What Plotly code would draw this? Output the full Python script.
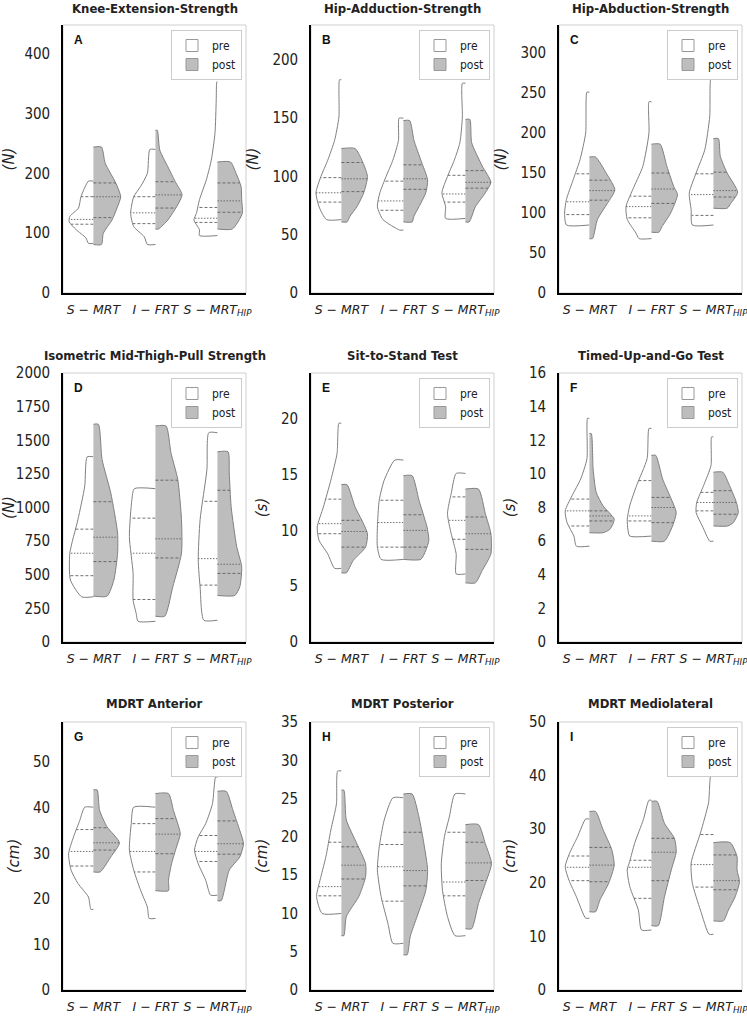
import numpy as np
import plotly.graph_objects as go

# ---------------- data ----------------
tick_text = ["<i>S − MRT</i>", "<i>I − FRT</i>", "<i>S − MRT<sub>HIP</sub></i>"]
titles = ["Knee-Extension-Strength", "Hip-Adduction-Strength", "Hip-Abduction-Strength",
          "Isometric Mid-Thigh-Pull Strength", "Sit-to-Stand Test", "Timed-Up-and-Go Test",
          "MDRT Anterior", "MDRT Posterior", "MDRT Mediolateral"]
letters = ["A", "B", "C", "D", "E", "F", "G", "H", "I"]
units = ["(N)", "(N)", "(N)", "(N)", "(s)", "(s)", "(cm)", "(cm)", "(cm)"]
y_max = [448, 230, 335, 2000, 24.1, 16, 58.8, 35, 50]
y_dtick = [100, 50, 50, 250, 5, 2, 10, 5, 10]

# density profiles (value levels, half-widths) and quartiles [Q1, median, Q3] per group
A_pre_y = [[83, 92, 106, 119, 128, 142, 161, 187], [81, 94, 111, 133, 161, 178, 200, 240],
           [96, 106, 122, 133, 156, 189, 222, 267, 322, 353]]
A_pre_w = [[0.08, 0.12, 0.28, 0.39, 0.38, 0.24, 0.20, 0.08], [0.13, 0.18, 0.35, 0.40, 0.35, 0.24, 0.13, 0.09],
           [0.29, 0.29, 0.38, 0.34, 0.29, 0.18, 0.10, 0.04, 0.02, 0.01]]
A_pre_q = [[115, 123, 161], [116, 134, 161], [118, 125, 143]]
A_post_y = [[81, 100, 122, 142, 161, 184, 217, 244], [107, 122, 144, 164, 186, 211, 239, 272],
            [107, 133, 156, 178, 200, 219]]
A_post_w = [[0.13, 0.16, 0.30, 0.38, 0.44, 0.36, 0.19, 0.13], [0.05, 0.20, 0.34, 0.43, 0.32, 0.20, 0.07, 0.03],
            [0.24, 0.40, 0.39, 0.38, 0.30, 0.21]]
A_post_q = [[126, 161, 184], [142, 164, 186], [135, 154, 184]]

B_pre_y = [[63, 74, 86, 100, 114, 131, 151, 183], [54, 63, 74, 86, 100, 114, 131, 150],
           [64, 74, 86, 100, 114, 129, 151, 180]]
B_pre_w = [[0.24, 0.36, 0.41, 0.33, 0.22, 0.11, 0.04, 0.03], [0.06, 0.33, 0.42, 0.38, 0.28, 0.17, 0.08, 0.07],
           [0.32, 0.32, 0.38, 0.29, 0.18, 0.09, 0.05, 0.05]]
B_pre_q = [[78, 86, 99], [71, 79, 96], [78, 85, 101]]
B_post_y = [[61, 66, 74, 86, 100, 114, 124], [61, 66, 74, 86, 97, 114, 131, 148],
            [61, 74, 86, 95, 109, 129, 149]]
B_post_w = [[0.09, 0.14, 0.25, 0.36, 0.42, 0.33, 0.22], [0.14, 0.17, 0.25, 0.36, 0.39, 0.28, 0.17, 0.10],
            [0.06, 0.16, 0.32, 0.41, 0.27, 0.10, 0.07]]
B_post_q = [[87, 98, 112], [89, 98, 110], [90, 95, 105]]

C_pre_y = [[85, 100, 117, 142, 167, 200, 251], [68, 75, 92, 108, 133, 158, 200, 239],
           [85, 104, 125, 150, 179, 221, 269]]
C_pre_w = [[0.37, 0.40, 0.37, 0.26, 0.15, 0.06, 0.04], [0.20, 0.25, 0.39, 0.41, 0.28, 0.14, 0.04, 0.04],
           [0.34, 0.36, 0.39, 0.28, 0.14, 0.06, 0.04]]
C_pre_q = [[98, 114, 149], [94, 108, 121], [97, 123, 149]]
C_post_y = [[68, 92, 112, 129, 150, 170], [76, 83, 100, 123, 133, 158, 186],
            [106, 112, 126, 150, 171, 193]]
C_post_w = [[0.05, 0.13, 0.29, 0.41, 0.27, 0.10], [0.12, 0.17, 0.31, 0.42, 0.36, 0.25, 0.14],
            [0.22, 0.28, 0.39, 0.22, 0.11, 0.08]]
C_post_q = [[116, 128, 141], [112, 130, 150], [120, 128, 151]]

D_pre_y = [[336, 461, 660, 909, 1158, 1377], [154, 212, 311, 510, 784, 1058, 1140],
           [162, 411, 610, 909, 1282, 1556]]
D_pre_w = [[0.19, 0.37, 0.38, 0.25, 0.14, 0.10], [0.28, 0.31, 0.36, 0.36, 0.42, 0.38, 0.34],
           [0.22, 0.28, 0.31, 0.28, 0.17, 0.14]]
D_pre_q = [[493, 660, 839], [316, 660, 921], [423, 620, 1046]]
D_post_y = [[341, 461, 660, 809, 1108, 1357, 1619], [192, 411, 660, 909, 1208, 1407, 1606],
            [346, 411, 560, 710, 1008, 1257, 1414]]
D_post_w = [[0.22, 0.33, 0.39, 0.39, 0.28, 0.14, 0.08], [0.15, 0.28, 0.42, 0.42, 0.36, 0.25, 0.17],
            [0.28, 0.36, 0.39, 0.31, 0.22, 0.19, 0.17]]
D_post_q = [[598, 779, 1043], [625, 767, 1203], [510, 578, 1128]]

E_pre_y = [[6.6, 7.9, 9.1, 10.3, 12.1, 14.5, 16.9, 19.6], [7.4, 8.5, 10.3, 12.7, 14.5, 16.3],
           [6.1, 7.9, 9.7, 11.5, 13.3, 15.1]]
E_pre_w = [[0.11, 0.22, 0.36, 0.39, 0.29, 0.17, 0.07, 0.04], [0.36, 0.42, 0.42, 0.39, 0.31, 0.14],
           [0.15, 0.15, 0.23, 0.29, 0.23, 0.15]]
E_pre_q = [[9.7, 10.6, 12.8], [8.5, 10.7, 12.7], [9.2, 10.9, 13.0]]
E_post_y = [[6.2, 7.3, 8.5, 9.7, 10.9, 12.1, 14.1], [7.4, 8.2, 9.1, 10.3, 12.7, 14.9],
            [5.3, 6.4, 7.9, 9.7, 11.5, 13.7]]
E_post_w = [[0.08, 0.19, 0.39, 0.42, 0.33, 0.22, 0.09], [0.28, 0.36, 0.41, 0.38, 0.25, 0.14],
            [0.16, 0.27, 0.41, 0.41, 0.32, 0.21]]
E_post_q = [[8.5, 9.9, 10.9], [8.5, 10.0, 11.4], [8.3, 9.7, 11.2]]

F_pre_y = [[5.7, 6.3, 7.1, 7.8, 8.7, 9.7, 10.9, 13.3], [6.3, 6.7, 7.3, 8.1, 9.3, 10.9, 12.7],
           [6.0, 6.9, 7.7, 8.3, 9.3, 10.5, 12.2]]
F_pre_w = [[0.21, 0.25, 0.36, 0.39, 0.28, 0.14, 0.04, 0.03], [0.35, 0.38, 0.39, 0.35, 0.24, 0.07, 0.04],
           [0.06, 0.18, 0.28, 0.27, 0.16, 0.04, 0.03]]
F_pre_q = [[6.9, 7.8, 8.5], [7.2, 7.5, 9.6], [7.8, 8.3, 8.9]]
F_post_y = [[6.5, 6.7, 7.3, 8.1, 8.9, 10.3, 12.4], [6.0, 6.9, 7.7, 8.5, 9.7, 11.1],
            [6.9, 7.1, 7.7, 8.3, 9.3, 10.1]]
F_post_w = [[0.22, 0.33, 0.40, 0.22, 0.11, 0.06, 0.03], [0.21, 0.34, 0.40, 0.32, 0.18, 0.07],
            [0.23, 0.32, 0.40, 0.37, 0.26, 0.15]]
F_post_q = [[7.2, 7.5, 7.8], [7.1, 8.0, 8.6], [7.6, 8.3, 9.0]]

G_pre_y = [[17.7, 20.4, 23.4, 26.3, 29.9, 33.6, 37.2, 40.1], [15.7, 18.2, 21.9, 26.3, 30.7, 36.5, 40.1],
           [20.8, 24.1, 27.7, 30.7, 33.6, 36.5, 40.9, 46.7]]
G_pre_w = [[0.04, 0.08, 0.25, 0.36, 0.40, 0.32, 0.22, 0.14], [0.10, 0.13, 0.24, 0.35, 0.42, 0.39, 0.35],
           [0.11, 0.19, 0.31, 0.37, 0.31, 0.19, 0.08, 0.03]]
G_pre_q = [[27.2, 30.4, 35.2], [25.9, 30.4, 36.5], [28.2, 30.4, 33.9]]
G_post_y = [[25.9, 29.2, 32.3, 35.8, 39.4, 43.9], [21.8, 24.1, 27.7, 31.4, 34.3, 39.4, 43.1],
            [19.6, 26.3, 29.2, 32.1, 35.0, 39.4, 43.6]]
G_post_w = [[0.11, 0.28, 0.42, 0.22, 0.10, 0.06], [0.21, 0.21, 0.26, 0.34, 0.40, 0.29, 0.21],
            [0.06, 0.19, 0.36, 0.42, 0.36, 0.25, 0.14]]
G_post_q = [[30.7, 32.3, 35.6], [29.9, 34.2, 37.6], [29.8, 32.1, 37.1]]

H_pre_y = [[10.0, 12.2, 14.8, 17.4, 20.9, 24.3, 28.6], [6.1, 8.7, 12.2, 15.7, 18.7, 22.2, 25.1],
           [7.1, 9.6, 13.0, 16.5, 20.0, 22.6, 25.6]]
H_pre_w = [[0.31, 0.40, 0.33, 0.25, 0.17, 0.08, 0.06], [0.17, 0.25, 0.36, 0.42, 0.39, 0.31, 0.17],
           [0.17, 0.29, 0.37, 0.39, 0.34, 0.26, 0.17]]
H_pre_q = [[12.3, 13.5, 19.3], [11.6, 16.1, 19.0], [12.3, 14.1, 20.6]]
H_post_y = [[7.1, 9.6, 12.2, 14.8, 16.5, 19.1, 22.2, 26.1], [4.6, 7.0, 9.6, 13.0, 15.7, 19.1, 22.6, 25.6],
            [8.0, 11.3, 13.9, 16.5, 19.1, 21.6]]
H_post_w = [[0.04, 0.08, 0.28, 0.39, 0.39, 0.25, 0.08, 0.04], [0.06, 0.11, 0.22, 0.36, 0.39, 0.33, 0.25, 0.14],
            [0.10, 0.21, 0.32, 0.42, 0.32, 0.21]]
H_post_q = [[14.5, 16.3, 18.7], [13.6, 15.6, 20.6], [14.3, 16.6, 19.3]]

I_pre_y = [[13.4, 17.4, 20.5, 23.0, 25.5, 28.6, 31.9], [11.2, 14.9, 19.3, 22.4, 24.0, 27.4, 31.8, 35.4],
           [10.4, 14.9, 19.9, 23.7, 29.3, 34.9, 40.2]]
I_pre_w = [[0.06, 0.21, 0.33, 0.39, 0.32, 0.19, 0.06], [0.16, 0.21, 0.35, 0.39, 0.35, 0.27, 0.13, 0.04],
           [0.07, 0.21, 0.34, 0.36, 0.21, 0.08, 0.04]]
I_pre_q = [[20.4, 22.9, 25.0], [17.1, 22.9, 24.2], [19.2, 23.4, 29.0]]
I_post_y = [[14.6, 16.8, 19.9, 23.3, 26.2, 29.9, 33.3], [12.0, 17.4, 22.4, 25.8, 28.3, 31.1, 35.2],
            [12.9, 14.9, 17.4, 20.2, 22.4, 24.9, 27.5]]
I_post_w = [[0.10, 0.17, 0.31, 0.40, 0.36, 0.22, 0.10], [0.11, 0.21, 0.32, 0.40, 0.37, 0.21, 0.09],
            [0.16, 0.24, 0.35, 0.42, 0.38, 0.38, 0.27]]
I_post_q = [[20.2, 23.3, 26.6], [20.4, 25.7, 28.3], [18.7, 20.4, 25.2]]

panels = [
    (A_pre_y, A_pre_w, A_pre_q, A_post_y, A_post_w, A_post_q),
    (B_pre_y, B_pre_w, B_pre_q, B_post_y, B_post_w, B_post_q),
    (C_pre_y, C_pre_w, C_pre_q, C_post_y, C_post_w, C_post_q),
    (D_pre_y, D_pre_w, D_pre_q, D_post_y, D_post_w, D_post_q),
    (E_pre_y, E_pre_w, E_pre_q, E_post_y, E_post_w, E_post_q),
    (F_pre_y, F_pre_w, F_pre_q, F_post_y, F_post_w, F_post_q),
    (G_pre_y, G_pre_w, G_pre_q, G_post_y, G_post_w, G_post_q),
    (H_pre_y, H_pre_w, H_pre_q, H_post_y, H_post_w, H_post_q),
    (I_pre_y, I_pre_w, I_pre_q, I_post_y, I_post_w, I_post_q),
]

# ---------------- layout geometry ----------------
W, H = 747, 1020
col_left = [63, 311, 559]
col_width = 183
row_top = [25, 373, 722]
row_bottom = [293, 642, 990]
title_y = [9, 355, 703]

NARROW = "DejaVu Sans Condensed, Liberation Sans Narrow, Arial Narrow, Liberation Sans, sans-serif"
MATH = "DejaVu Sans, sans-serif"
PRE_FILL = "#ffffff"
POST_FILL = "#bdbdbd"
EDGE = "#808080"
QCOL = "#606060"

fig = go.Figure()
layout = dict(
    width=W, height=H, margin=dict(l=0, r=0, t=0, b=0, autoexpand=False),
    paper_bgcolor="white", plot_bgcolor="white",
    font=dict(family=NARROW, size=14, color="#222"),
    shapes=[], annotations=[],
)


def outline(c, ys, ws, sign):
    xs = [c] + [c + sign * w for w in ws] + [c]
    yy = [ys[0]] + list(ys) + [ys[-1]]
    return xs, yy


for k, (pre_y, pre_w, pre_q, post_y, post_w, post_q) in enumerate(panels):
    r, cidx = divmod(k, 3)
    xa = "x" if k == 0 else f"x{k+1}"
    ya = "y" if k == 0 else f"y{k+1}"
    lg = "legend" if k == 0 else f"legend{k+1}"
    x0 = col_left[cidx] / W
    x1 = (col_left[cidx] + col_width) / W
    y0 = 1 - row_bottom[r] / H
    y1 = 1 - row_top[r] / H

    # legend entries (empty bars give boxed swatches)
    for name, fillc in (("pre", PRE_FILL), ("post", POST_FILL)):
        fig.add_trace(go.Bar(x=[None], y=[None], name=name, legend=lg,
                             marker=dict(color=fillc, line=dict(color="#999999", width=1)),
                             xaxis=xa, yaxis=ya, hoverinfo="skip", showlegend=True))

    for g in range(3):
        for side, ys, ws, qs, fillc in ((-1, pre_y[g], pre_w[g], pre_q[g], PRE_FILL),
                                        (1, post_y[g], post_w[g], post_q[g], POST_FILL)):
            xs, yy = outline(g, ys, ws, side)
            fig.add_trace(go.Scatter(
                x=xs, y=yy, mode="lines", fill="toself", fillcolor=fillc,
                line=dict(color=EDGE, width=1, shape="spline", smoothing=0.6),
                showlegend=False, xaxis=xa, yaxis=ya, hoverinfo="skip"))
            for qi, qv in enumerate(qs):
                wq = float(np.interp(qv, ys, ws))
                fig.add_trace(go.Scatter(
                    x=[g, g + side * wq], y=[qv, qv], mode="lines",
                    line=dict(color=QCOL, width=0.9, dash="1.5px,1.5px" if qi == 1 else "3px,2px"),
                    showlegend=False, xaxis=xa, yaxis=ya, hoverinfo="skip"))

    xkey = "xaxis" if k == 0 else f"xaxis{k+1}"
    ykey = "yaxis" if k == 0 else f"yaxis{k+1}"
    layout[xkey] = dict(
        domain=[x0, x1], anchor=ya, range=[-0.49, 2.46], tickmode="array",
        tickvals=[0, 1, 2], ticktext=tick_text, tickangle=0, showgrid=False, zeroline=False,
        showline=True, linecolor="black", linewidth=1.6, ticks="", ticklabelstandoff=4,
        automargin=False, ticklabeloverflow="allow",
        tickfont=dict(family=MATH, size=12.5, color="#222"), fixedrange=True)
    layout[ykey] = dict(
        domain=[y0, y1], anchor=xa, range=[0, y_max[k]], dtick=y_dtick[k], tick0=0,
        showgrid=False, zeroline=False, showline=True, linecolor="black", linewidth=1.6,
        ticks="", ticklabelstandoff=8, automargin=False,
        tickfont=dict(family=NARROW, size=15, color="#222"),
        title=dict(text=f"<i>{units[k]}</i>", font=dict(family=MATH, size=15, color="#222"), standoff=10),
        fixedrange=True)
    layout["shapes"].append(dict(
        type="rect", xref=f"{xa} domain", yref=f"{ya} domain", x0=0, x1=1, y0=0, y1=1,
        line=dict(color="#cfcfcf", width=1), layer="below"))
    layout["annotations"].append(dict(
        text=f"<b>{titles[k]}</b>", xref="paper", yref="paper",
        x=(x0 + x1) / 2, y=1 - title_y[r] / H, xanchor="center", yanchor="middle",
        showarrow=False, font=dict(family=NARROW, size=13, color="#222")))
    layout["annotations"].append(dict(
        text=f"<b>{letters[k]}</b>", xref=f"{xa} domain", yref=f"{ya} domain",
        x=0.05, y=1, yshift=-15, xanchor="left", yanchor="middle",
        showarrow=False, font=dict(family="Liberation Sans, Arial, sans-serif", size=12, color="#111")))
    layout[lg] = dict(
        x=(col_left[cidx] + col_width - 4) / W, y=1 - (row_top[r] + 5) / H,
        xanchor="right", yanchor="top", xref="paper", yref="paper",
        bgcolor="white", bordercolor="#cccccc", borderwidth=1,
        font=dict(family=NARROW, size=12, color="#222"), itemwidth=30,
        tracegroupgap=0)

fig.update_layout(**layout)
fig.write_html("out.html", config={"displayModeBar": False},
               post_script="document.body.style.margin='0px';")
